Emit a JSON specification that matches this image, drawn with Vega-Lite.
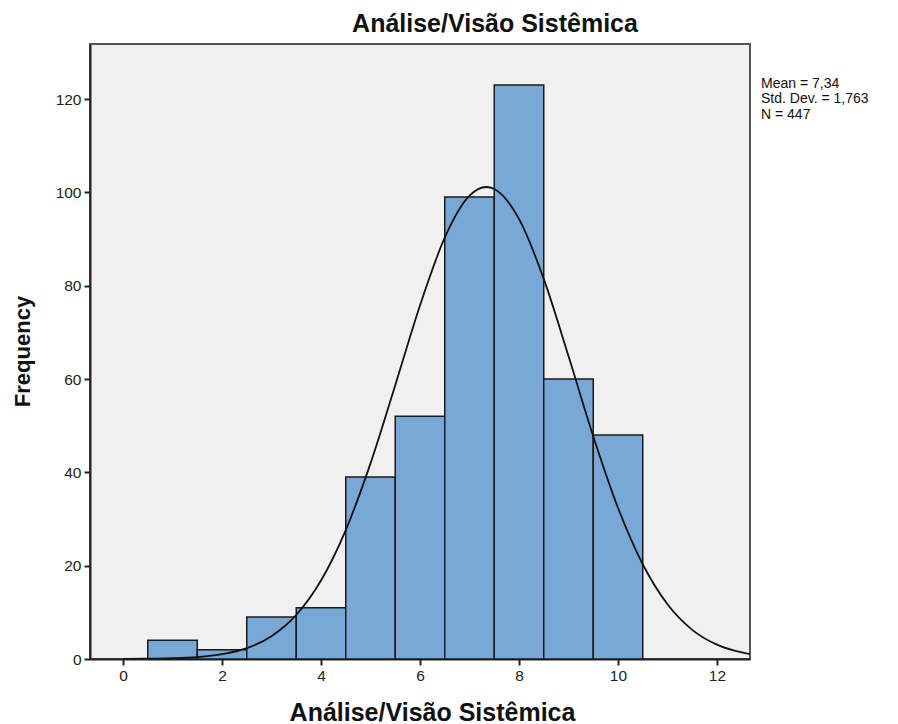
{
  "$schema": "https://vega.github.io/schema/vega-lite/v6.json",
  "width": 660,
  "height": 615,
  "autosize": "none",
  "padding": {"left": 90, "top": 44, "right": 148, "bottom": 65},
  "background": "white",
  "config": {
    "font": "Liberation Sans",
    "view": {"fill": "#f0f0f0", "stroke": "#555555", "strokeWidth": 2},
    "axis": {"grid": false, "labelFont": "Liberation Sans", "titleFont": "Liberation Sans", "labelFontSize": 15.5, "labelColor": "#222222", "tickColor": "#222222", "domainColor": "#222222", "domainWidth": 2, "tickWidth": 2, "tickSize": 6, "titleFontSize": 25, "titleFontWeight": "bold", "titleColor": "#111111"}
  },
  "title": {"text": "Análise/Visão Sistêmica", "fontSize": 25, "fontWeight": "bold", "font": "Liberation Sans", "color": "#111111", "dx": 75, "offset": 7},
  "datasets": {
    "bins": [
      {"lo": 0.5, "hi": 1.5, "count": 4},
      {"lo": 1.5, "hi": 2.5, "count": 2},
      {"lo": 2.5, "hi": 3.5, "count": 9},
      {"lo": 3.5, "hi": 4.5, "count": 11},
      {"lo": 4.5, "hi": 5.5, "count": 39},
      {"lo": 5.5, "hi": 6.5, "count": 52},
      {"lo": 6.5, "hi": 7.5, "count": 99},
      {"lo": 7.5, "hi": 8.5, "count": 123},
      {"lo": 8.5, "hi": 9.5, "count": 60},
      {"lo": 9.5, "hi": 10.5, "count": 48}
    ],
    "curve": [
      {"x": 0.0, "y": 0.02}, {"x": 0.5, "y": 0.05}, {"x": 1.0, "y": 0.16}, {"x": 1.5, "y": 0.42},
      {"x": 2.0, "y": 1.03}, {"x": 2.5, "y": 2.33}, {"x": 3.0, "y": 4.89}, {"x": 3.5, "y": 9.44},
      {"x": 4.0, "y": 16.81}, {"x": 4.5, "y": 27.63}, {"x": 5.0, "y": 41.93}, {"x": 5.5, "y": 58.68},
      {"x": 6.0, "y": 75.77}, {"x": 6.5, "y": 90.3}, {"x": 7.0, "y": 99.29}, {"x": 7.34, "y": 101.15},
      {"x": 7.5, "y": 100.73}, {"x": 8.0, "y": 94.31}, {"x": 8.5, "y": 81.46}, {"x": 9.0, "y": 64.93},
      {"x": 9.5, "y": 47.75}, {"x": 10.0, "y": 32.41}, {"x": 10.5, "y": 20.3}, {"x": 11.0, "y": 11.73},
      {"x": 11.5, "y": 6.25}, {"x": 12.0, "y": 3.07}, {"x": 12.5, "y": 1.4}, {"x": 12.667, "y": 1.05}
    ],
    "stats": [{"label": "Mean = 7,34\nStd. Dev. = 1,763\nN = 447"}]
  },
  "layer": [
    {
      "data": {"name": "bins"},
      "mark": {"type": "rect", "fill": "#79a8d7", "stroke": "#1a1a1a", "strokeWidth": 1.5},
      "encoding": {
        "x": {"field": "lo", "type": "quantitative", "scale": {"domain": [-0.667, 12.667], "nice": false, "zero": false},
              "axis": {"values": [0, 2, 4, 6, 8, 10, 12], "title": "Análise/Visão Sistêmica", "titleX": 342, "titleY": 41, "titleBaseline": "top", "labelPadding": 3}},
        "x2": {"field": "hi"},
        "y": {"field": "count", "type": "quantitative", "scale": {"domain": [0, 131.8], "nice": false},
              "axis": {"values": [0, 20, 40, 60, 80, 100, 120], "title": "Frequency", "titleX": -68, "titleY": 307, "titleAngle": 270, "titleAlign": "center", "titleBaseline": "middle", "titleFontSize": 22, "labelPadding": 3}},
        "y2": {"datum": 0}
      }
    },
    {
      "data": {"name": "curve"},
      "mark": {"type": "line", "color": "#111111", "strokeWidth": 1.8, "interpolate": "monotone", "clip": true},
      "encoding": {
        "x": {"field": "x", "type": "quantitative"},
        "y": {"field": "y", "type": "quantitative"}
      }
    },
    {
      "data": {"name": "stats"},
      "mark": {"type": "text", "align": "left", "baseline": "top", "fontSize": 14, "lineHeight": 15.5, "lineBreak": "\n", "dx": 11, "color": "#111111", "font": "Liberation Sans"},
      "encoding": {
        "x": {"datum": 12.667, "type": "quantitative"},
        "y": {"datum": 124.8, "type": "quantitative"},
        "text": {"field": "label"}
      }
    }
  ]
}
